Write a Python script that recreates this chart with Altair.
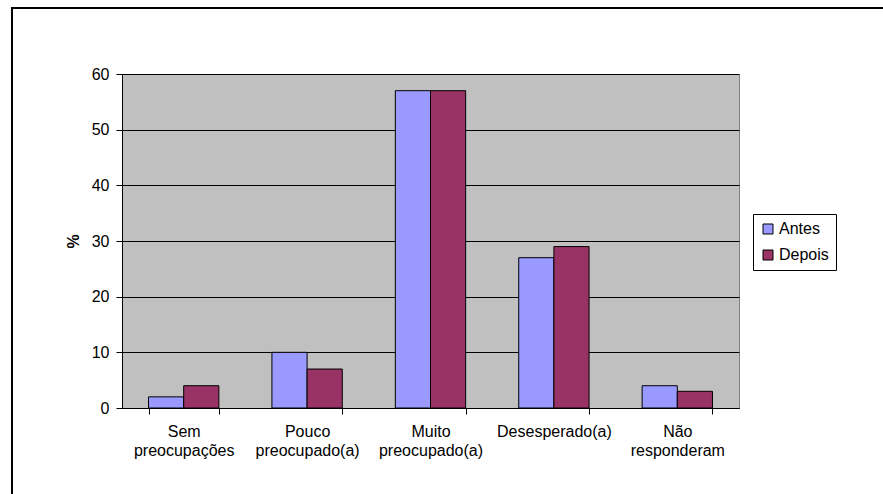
import altair as alt
import pandas as pd

# Worry level before and after, in percent
categorias = [
    "Sem preocupações",
    "Pouco preocupado(a)",
    "Muito preocupado(a)",
    "Desesperado(a)",
    "Não responderam",
]
series = ["Antes", "Depois"]
antes = [2, 10, 57, 27, 4]
depois = [4, 7, 57, 29, 3]
cores = ["#9999FF", "#993366"]
y_ticks = [0, 10, 20, 30, 40, 50, 60]

rows = []
for cat, a, d in zip(categorias, antes, depois):
    rows.append({"categoria": cat, "serie": "Antes", "valor": a})
    rows.append({"categoria": cat, "serie": "Depois", "valor": d})
df = pd.DataFrame(rows)

FONT = "Liberation Sans"

bars = alt.Chart(df).mark_bar(stroke="black", strokeWidth=1).encode(
    x=alt.X(
        "categoria:N",
        sort=categorias,
        title=None,
        scale=alt.Scale(paddingInner=0.43, paddingOuter=0.215),
        axis=alt.Axis(
            labelAngle=0,
            labelExpr="isValid(datum.value) ? split(datum.value, ' ') : ''",
            labelLineHeight=19,
            labelPadding=9,
            labelFontSize=16,
            tickBand="extent",
            tickSize=6,
            grid=False,
        ),
    ),
    xOffset=alt.XOffset(
        "serie:N", sort=series, scale=alt.Scale(paddingInner=0, paddingOuter=0)
    ),
    y=alt.Y(
        "valor:Q",
        scale=alt.Scale(domain=[0, 60], nice=False),
        axis=alt.Axis(
            values=y_ticks,
            title="%",
            titleFontWeight="bold",
            titleFontSize=16,
            titlePadding=10,
            labelFontSize=16,
            labelPadding=7,
            tickSize=6,
            grid=True,
        ),
    ),
    color=alt.Color(
        "serie:N",
        sort=series,
        title=None,
        scale=alt.Scale(domain=series, range=cores),
        legend=alt.Legend(
            orient="none",
            legendX=631,
            legendY=140,
            direction="vertical",
            symbolType="square",
            symbolSize=100,
            symbolStrokeColor="black",
            symbolStrokeWidth=1,
            symbolOpacity=1,
            labelFont=FONT,
            labelFontSize=16,
            labelColor="black",
            labelOffset=3,
            rowPadding=10,
            padding=7,
            strokeColor="black",
            fillColor="white",
        ),
    ),
)

# Outer frame: only its top and left sides fall inside the canvas
one = pd.DataFrame({"k": [0]})
frame_top = alt.Chart(one).mark_rule(color="black", strokeWidth=2).encode(
    x=alt.value(-111), x2=alt.value(800), y=alt.value(-66)
)
frame_left = alt.Chart(one).mark_rule(color="black", strokeWidth=2).encode(
    x=alt.value(-110), y=alt.value(-67), y2=alt.value(500)
)

chart = (
    alt.layer(frame_top, frame_left, bars)
    .properties(
        width=617,
        height=334,
        autosize=alt.AutoSizeParams(type="none"),
        padding={"left": 122, "top": 74, "right": 144, "bottom": 86},
        background="white",
    )
    .configure_view(fill="#C0C0C0", stroke="#808080", strokeWidth=1)
    .configure_axis(
        labelFont=FONT,
        titleFont=FONT,
        labelColor="black",
        titleColor="black",
        domainColor="black",
        tickColor="black",
        gridColor="black",
        gridOpacity=1,
        domainWidth=1,
        tickWidth=1,
        gridWidth=1,
    )
)

chart.save("out.html", embed_options={"renderer": "svg", "actions": False})
